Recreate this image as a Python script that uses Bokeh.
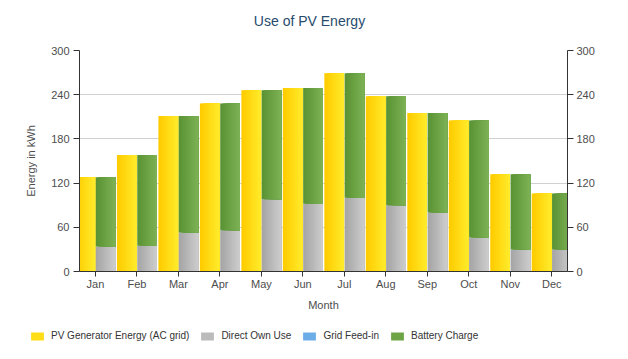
import numpy as np
from bokeh.plotting import figure
from bokeh.layouts import column
from bokeh.models import (Range1d, FixedTicker, LinearAxis, Legend, LegendItem,
                          ColumnDataSource, Label)
from bokeh.embed import file_html
from bokeh.resources import INLINE

# ---- data (kWh per month) ----
months = ["Jan", "Feb", "Mar", "Apr", "May", "Jun",
          "Jul", "Aug", "Sep", "Oct", "Nov", "Dec"]
pv_generator = [128, 158, 211, 228, 246, 249, 269, 238, 215, 205, 132, 106]
direct_own_use = [34, 35, 53, 56, 98, 92, 100, 90, 80, 46, 30, 30]
grid_feed_in = [0, 0, 0, 0, 0, 0, 0, 0, 0, 0, 0, 0]
battery_charge = [94, 123, 158, 172, 148, 157, 169, 148, 135, 159, 102, 76]
series_names = ["PV Generator Energy (AC grid)", "Direct Own Use",
                "Grid Feed-in", "Battery Charge"]
y_ticks = [0, 60, 120, 180, 240, 300]
chart_title = "Use of PV Energy"

FONT = "Liberation Sans"
N_STRIPS = 10
BAR_W = 0.475
OFF = 0.245


def hex2rgb(h):
    h = h.lstrip("#")
    return [int(h[i:i + 2], 16) for i in (0, 2, 4)]


def lerp(c0, c1, t):
    a, b = hex2rgb(c0), hex2rgb(c1)
    return "#%02x%02x%02x" % tuple(int(round(a[j] + (b[j] - a[j]) * t)) for j in range(3))


def strips(offset, bottoms, tops, c0, c1):
    # overlapping strips (each reaches the bar's right edge) -> horizontal gradient
    xs, ws, bs, ts, cs = [], [], [], [], []
    sw = BAR_W / N_STRIPS
    for i in range(len(months)):
        right = i + offset + BAR_W / 2
        for k in range(N_STRIPS):
            left = i + offset - BAR_W / 2 + k * sw
            xs.append((left + right) / 2)
            ws.append(right - left)
            bs.append(bottoms[i])
            ts.append(tops[i])
            cs.append(lerp(c0, c1, k / (N_STRIPS - 1)))
    return ColumnDataSource(dict(x=xs, w=ws, bottom=bs, top=ts, color=cs))


idx = np.arange(len(months))
direct_arr = np.array(direct_own_use)
feed_arr = np.array(grid_feed_in)
batt_arr = np.array(battery_charge)

W, H_TITLE, H_MAIN, H_LEG = 628, 36, 279, 44


def blank_fig(height, x_range, y_range):
    f = figure(width=W, height=height, output_backend="svg", toolbar_location=None,
               x_range=x_range, y_range=y_range, x_axis_type=None, y_axis_type=None,
               min_border_left=0, min_border_right=0, min_border_top=0, min_border_bottom=0)
    f.outline_line_color = None
    f.background_fill_color = "white"
    f.border_fill_color = "white"
    return f


# ---- title strip ----
tf = blank_fig(H_TITLE, Range1d(0, 1), Range1d(0, 1))
tf.add_layout(Label(x=309, y=H_TITLE - 20, x_units="screen", y_units="screen",
                    text=chart_title, text_font=FONT, text_font_size="14px",
                    text_color="#274b6d", text_align="center", text_baseline="middle"))

# ---- main chart ----
p = figure(width=W, height=H_MAIN, output_backend="svg", toolbar_location=None,
           x_range=Range1d(-0.385, 11.38), y_range=Range1d(0, 300),
           min_border_left=79, min_border_right=61, min_border_top=50 - H_TITLE,
           min_border_bottom=44)
p.outline_line_color = None
p.background_fill_color = "white"
p.border_fill_color = "white"

sources = [
    strips(-OFF, [0] * 12, pv_generator, "#ffcc00", "#ffea2a"),
    strips(OFF, [0] * 12, direct_own_use, "#a6a6a6", "#cbcbcb"),
    strips(OFF, list(direct_arr), list(direct_arr + feed_arr), "#5a9fe0", "#7bb6ec"),
    strips(OFF, list(direct_arr + feed_arr), list(direct_arr + feed_arr + batt_arr),
           "#5a9434", "#7cb054"),
]

kw = dict(x="x", width="w", bottom="bottom", top="top", fill_color="color", line_color=None)
for src in sources:
    p.vbar(source=src, **kw)

AX_COL = "#333333"
LBL_COL = "#4d4d4d"
for ax in [p.xaxis[0], p.yaxis[0]]:
    ax.axis_line_color = AX_COL
    ax.major_tick_line_color = AX_COL
    ax.minor_tick_line_color = None
    ax.major_tick_in = 0
    ax.major_tick_out = 6
    ax.major_label_text_font = FONT
    ax.major_label_text_font_size = "11px"
    ax.major_label_text_color = LBL_COL
    ax.axis_label_text_font = FONT
    ax.axis_label_text_font_size = "11px"
    ax.axis_label_text_font_style = "normal"
    ax.axis_label_text_color = LBL_COL

p.xaxis.ticker = FixedTicker(ticks=list(idx))
p.xaxis.major_label_overrides = {int(i): m for i, m in zip(idx, months)}
p.xaxis.axis_label = "Month"
p.xaxis.major_tick_out = 5
p.xaxis.major_label_standoff = 1
p.xaxis.axis_label_standoff = 6

p.yaxis.ticker = FixedTicker(ticks=y_ticks)
p.yaxis.axis_label = "Energy in kWh"
p.yaxis.major_label_standoff = 4
p.yaxis.axis_label_standoff = 11

rax = LinearAxis(ticker=FixedTicker(ticks=y_ticks))
rax.axis_line_color = AX_COL
rax.major_tick_line_color = AX_COL
rax.minor_tick_line_color = None
rax.major_tick_in = 0
rax.major_tick_out = 6
rax.major_label_standoff = 3
rax.major_label_text_font = FONT
rax.major_label_text_font_size = "11px"
rax.major_label_text_color = LBL_COL
p.add_layout(rax, "right")

p.xgrid.grid_line_color = None
p.ygrid.ticker = FixedTicker(ticks=y_ticks)
p.ygrid.grid_line_color = "#d0d0d0"
p.ygrid.grid_line_width = 1

# ---- legend strip (its bars lie outside its view, only swatches show) ----
lf = blank_fig(H_LEG, Range1d(-100, -99), Range1d(0, 300))
leg_renderers = [lf.vbar(source=src, **kw) for src in sources]

for fig in (tf, p, lf):
    if "frame_align" in fig.properties():
        fig.frame_align = False

half = N_STRIPS // 2
legend = Legend(items=[LegendItem(label=n, renderers=[r], index=half)
                       for n, r in zip(series_names, leg_renderers)],
                orientation="horizontal", location=(29, 18))
legend.padding = 0
legend.margin = 0
legend.spacing = 10
legend.glyph_width = 16
legend.glyph_height = 10
legend.label_standoff = 6
legend.label_text_font = FONT
legend.label_text_font_size = "10px"
legend.label_text_color = "#333333"
legend.border_line_color = None
legend.background_fill_alpha = 0
lf.add_layout(legend, "center")

layout = column(tf, p, lf, spacing=0)
open("out.html", "w").write(file_html(layout, INLINE))
